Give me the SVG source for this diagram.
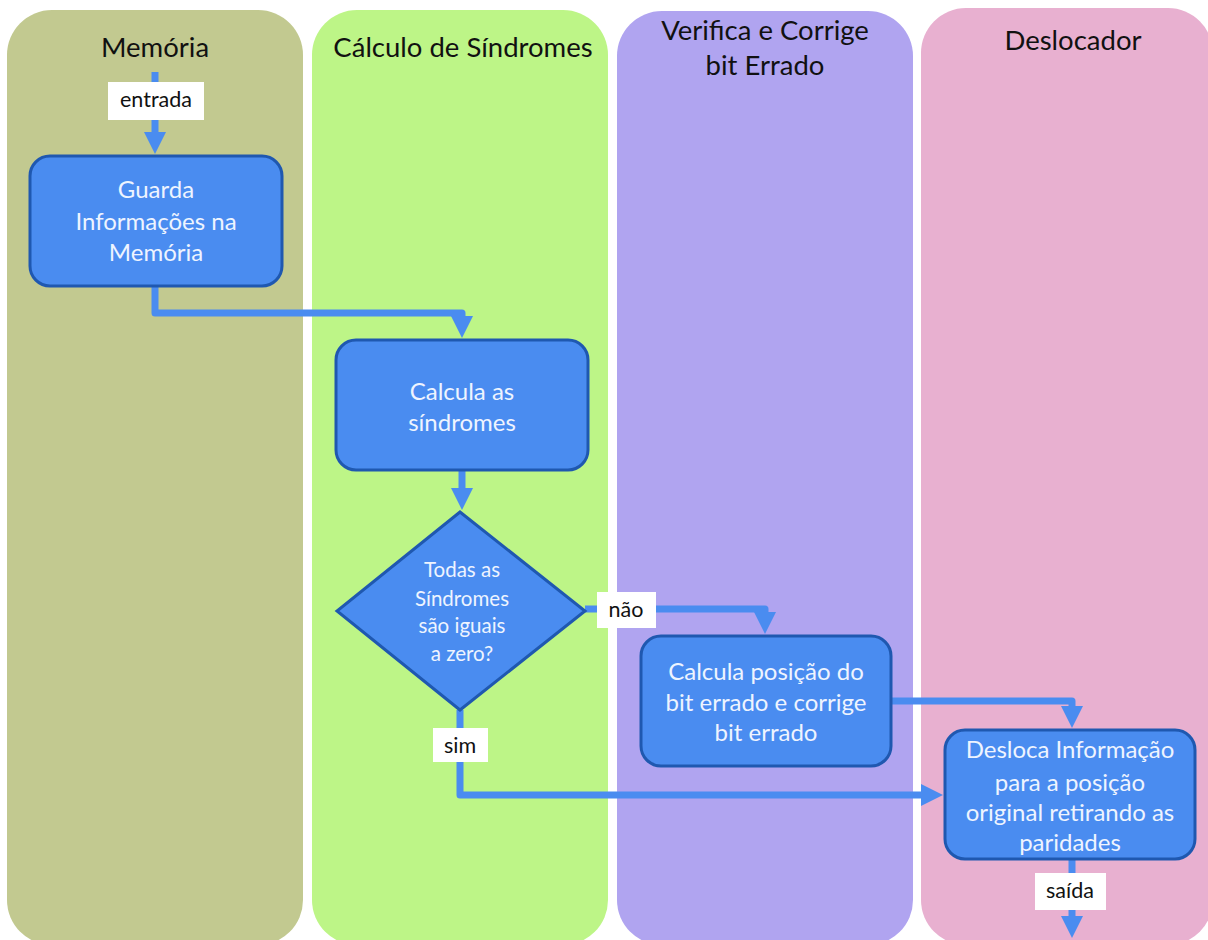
<svg xmlns="http://www.w3.org/2000/svg" width="1208" height="940" viewBox="0 0 1208 940">
  <style>
    .lane-title { font-family: Lato, "Open Sans", sans-serif; font-size: 27.5px; fill: #111; text-anchor: middle; }
    .box { fill: #4a8cf0; stroke: #1f58b0; stroke-width: 3; }
    .node-text { font-family: Lato, "Open Sans", sans-serif; font-size: 24px; fill: #eef4ff; text-anchor: middle; }
    .diamond-text { font-size: 20.5px; }
    .flow { fill: none; stroke: #4a8cf0; stroke-width: 7; stroke-linejoin: round; marker-end: url(#arrow); }
    .tag { fill: #ffffff; }
    .tag-text { font-family: Lato, "Open Sans", sans-serif; font-size: 21.5px; fill: #111; text-anchor: middle; }
  </style>
  <defs>
    <marker id="arrow" viewBox="0 0 22 22" refX="4" refY="11" markerWidth="22" markerHeight="22" markerUnits="userSpaceOnUse" orient="auto">
      <path d="M0,0 L22,11 L0,22 z" fill="#4a8cf0"/>
    </marker>
  </defs>

  <rect width="1208" height="940" fill="#ffffff"/>

  <!-- swimlanes -->
  <g id="lanes">
    <g id="lane-memoria">
      <rect x="7" y="10" width="296" height="935" rx="45" fill="#c2c990"/>
      <text class="lane-title" x="155" y="57">Memória</text>
    </g>
    <g id="lane-sindromes">
      <rect x="312" y="10" width="296" height="935" rx="45" fill="#bdf587"/>
      <text class="lane-title" x="463" y="57">Cálculo de Síndromes</text>
    </g>
    <g id="lane-verifica">
      <rect x="617" y="11" width="296" height="934" rx="45" fill="#b0a4f0"/>
      <text class="lane-title" x="765" y="40">Verifica e Corrige</text>
      <text class="lane-title" x="765" y="75">bit Errado</text>
    </g>
    <g id="lane-deslocador">
      <rect x="921" y="8" width="292" height="937" rx="45" fill="#e8b0d0"/>
      <text class="lane-title" x="1073" y="50">Deslocador</text>
    </g>
  </g>

  <!-- connectors -->
  <g id="connectors">
    <path class="flow" d="M155,72 V136"/>
    <path class="flow" d="M155,286 V313 H462 V320"/>
    <path class="flow" d="M462,470 V492"/>
    <path class="flow" d="M585,609 H765 V616"/>
    <path class="flow" d="M891,701 H1072 V710"/>
    <path class="flow" d="M460,710 V795 H925"/>
    <path class="flow" d="M1072,859 V920"/>

    <rect class="tag" x="108" y="82" width="96" height="38"/>
    <text class="tag-text" x="156" y="107">entrada</text>
    <rect class="tag" x="597" y="592" width="59" height="36"/>
    <text class="tag-text" x="626" y="617">não</text>
    <rect class="tag" x="433" y="728" width="55" height="34"/>
    <text class="tag-text" x="460" y="753">sim</text>
    <rect class="tag" x="1035" y="873" width="71" height="37"/>
    <text class="tag-text" x="1070" y="898">saída</text>
  </g>

  <!-- process steps -->
  <g id="node-guarda">
    <rect class="box" x="30" y="156" width="252" height="130" rx="20"/>
    <text class="node-text" x="156" y="198">Guarda</text>
    <text class="node-text" x="156" y="230">Informações na</text>
    <text class="node-text" x="156" y="261">Memória</text>
  </g>

  <g id="node-calcula-sindromes">
    <rect class="box" x="336" y="340" width="252" height="130" rx="20"/>
    <text class="node-text" x="462" y="400">Calcula as</text>
    <text class="node-text" x="462" y="431">síndromes</text>
  </g>

  <g id="node-decisao">
    <polygon class="box" points="460,512 585,611 460,710 337,611"/>
    <text class="node-text diamond-text" x="462" y="577">Todas as</text>
    <text class="node-text diamond-text" x="462" y="606">Síndromes</text>
    <text class="node-text diamond-text" x="462" y="633">são iguais</text>
    <text class="node-text diamond-text" x="462" y="661">a zero?</text>
  </g>

  <g id="node-corrige">
    <rect class="box" x="641" y="636" width="250" height="130" rx="20"/>
    <text class="node-text" x="766" y="680">Calcula posição do</text>
    <text class="node-text" x="766" y="711">bit errado e corrige</text>
    <text class="node-text" x="766" y="741">bit errado</text>
  </g>

  <g id="node-desloca">
    <rect class="box" x="945" y="730" width="250" height="129" rx="20"/>
    <text class="node-text" x="1070" y="758">Desloca Informação</text>
    <text class="node-text" x="1070" y="791">para a posição</text>
    <text class="node-text" x="1070" y="821">original retirando as</text>
    <text class="node-text" x="1070" y="851">paridades</text>
  </g>
</svg>
